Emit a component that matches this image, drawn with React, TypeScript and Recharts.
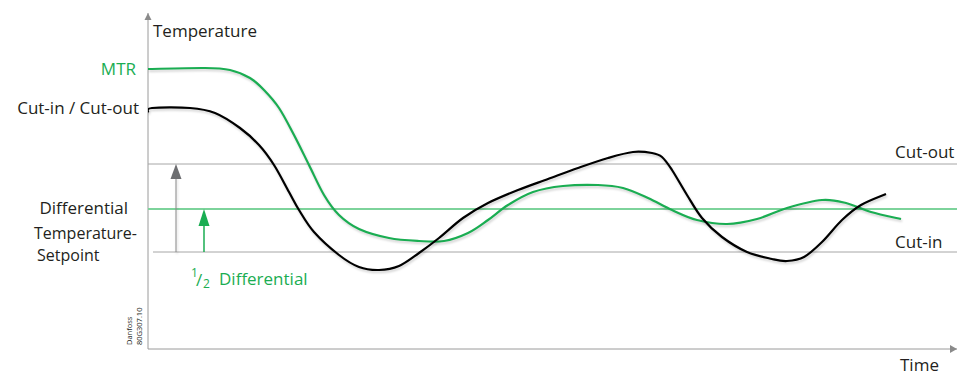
import { LineChart, Line, XAxis, YAxis, ReferenceLine, ReferenceDot } from 'recharts';

// time runs left to right, temperature in arbitrary schematic units
const controlTime = [0, 4, 42, 67, 92, 111, 126, 141, 151, 166, 191, 211, 231, 251, 271, 291, 315, 340, 370, 400, 430, 460, 485, 504, 514, 524, 539, 554, 574, 599, 624, 639, 656, 674, 694, 713, 738];
const controlTemp = [237, 241, 241, 236, 221, 204, 184, 157, 139, 117, 94, 82, 79, 83, 96, 111, 131, 146, 159, 170, 181, 191, 197, 196, 192, 179, 154, 131, 112, 97, 90, 88, 92, 107, 129, 144, 155];

const mtrTime = [0, 57, 82, 102, 116, 131, 146, 161, 176, 191, 211, 241, 271, 296, 320, 340, 360, 385, 415, 450, 475, 500, 524, 549, 579, 609, 639, 674, 698, 723, 753];
const mtrTemp = [280, 281, 279, 271, 259, 241, 214, 184, 154, 134, 120, 111, 108, 108, 116, 129, 144, 157, 163, 164, 161, 151, 139, 129, 125, 130, 141, 149, 146, 137, 130];

const cutOut = 185;
const halfDiff = 140;
const cutIn = 97;
const arrowTime = [28, 56];

const GREEN = '#1aad52';
const GREY = '#6d6e71';
const INK = '#231f20';
const FONT = "'Open Sans', sans-serif";

const toRows = (t: number[], v: number[]) => t.map((time, i) => ({ time, temp: v[i] }));
const controlData = toRows(controlTime, controlTemp);
const mtrData = toRows(mtrTime, mtrTemp);

// catmull-rom through the points, drawn as cubic beziers (smoother than monotone here)
function smoothCurve(ctx: any) {
  let pts: number[][] = [];
  return {
    areaStart() {},
    areaEnd() {},
    lineStart() {
      pts = [];
    },
    point(x: number, y: number) {
      pts.push([+x, +y]);
    },
    lineEnd() {
      if (!pts.length) return;
      ctx.moveTo(pts[0][0], pts[0][1]);
      for (let i = 0; i < pts.length - 1; i++) {
        const p0 = pts[i - 1] || pts[i];
        const p1 = pts[i];
        const p2 = pts[i + 1];
        const p3 = pts[i + 2] || p2;
        ctx.bezierCurveTo(
          p1[0] + (p2[0] - p0[0]) / 6, p1[1] + (p2[1] - p0[1]) / 6,
          p2[0] - (p3[0] - p1[0]) / 6, p2[1] - (p3[1] - p1[1]) / 6,
          p2[0], p2[1],
        );
      }
    },
  };
}

const upHead = (color: string, w: number, h: number) => (p: any) => (
  <path d={`M${p.cx},${p.cy} l${-w / 2},${h} l${w},0 z`} fill={color} />
);
const rightHead = (p: any) => <path d={`M${p.cx},${p.cy} l-7,-4 l0,8 z`} fill="#8a8a8a" />;

const shadow = { filter: 'drop-shadow(1px 2px 1px rgba(0,0,0,0.18))' };

export default function App() {
  return (
    <div style={{ position: 'absolute', left: 0, top: 0, width: 960, height: 376, background: '#fff' }}>
      <LineChart width={960} height={376} margin={{ top: 13, right: 3, bottom: 27, left: 148 }}>
        <XAxis type="number" dataKey="time" domain={[0, 809]} hide allowDataOverflow />
        <YAxis type="number" dataKey="temp" domain={[0, 336]} hide allowDataOverflow />

        {/* axes */}
        <ReferenceLine x={0} stroke="#9a9a9a" strokeWidth={1} />
        <ReferenceLine y={0} stroke="#9a9a9a" strokeWidth={1} />
        <ReferenceDot x={0} y={336} shape={upHead('#8a8a8a', 7, 7)} />
        <ReferenceDot x={809} y={0} shape={rightHead} />

        {/* switching levels */}
        <ReferenceLine y={cutOut} stroke="#a6a6a6" strokeWidth={1} />
        <ReferenceLine y={halfDiff} stroke="#7dd39b" strokeWidth={2} />
        <ReferenceLine segment={[{ x: 5, y: cutIn }, { x: 809, y: cutIn }]} stroke="#a6a6a6" strokeWidth={1} />

        {/* differential arrows */}
        <ReferenceLine segment={[{ x: arrowTime[0], y: cutIn }, { x: arrowTime[0], y: cutOut - 12 }]} stroke="#8a8a8a" strokeWidth={1} style={shadow} />
        <ReferenceDot x={arrowTime[0]} y={cutOut} shape={upHead(GREY, 11, 15)} />
        <ReferenceLine segment={[{ x: arrowTime[1], y: cutIn }, { x: arrowTime[1], y: halfDiff - 14 }]} stroke={GREEN} strokeWidth={1.5} />
        <ReferenceDot x={arrowTime[1]} y={halfDiff} shape={upHead(GREEN, 11, 17)} />

        <Line data={mtrData} type={smoothCurve as any} dataKey="temp" stroke={GREEN} strokeWidth={2.2} dot={false} isAnimationActive={false} style={shadow} />
        <Line data={controlData} type={smoothCurve as any} dataKey="temp" stroke="#000" strokeWidth={2.2} dot={false} isAnimationActive={false} style={shadow} />
      </LineChart>

      <svg width={960} height={376} style={{ position: 'absolute', left: 0, top: 0, pointerEvents: 'none' }} fontFamily={FONT} fontSize={17} fill={INK}>
        <text x={153} y={37}>Temperature</text>
        <text x={136} y={75} textAnchor="end" fill={GREEN}>MTR</text>
        <text x={139} y={114} textAnchor="end">Cut-in / Cut-out</text>
        <text x={128} y={214} textAnchor="end">Differential</text>
        <text x={137} y={239} textAnchor="end" fontSize={16}>Temperature-</text>
        <text x={37} y={261} fontSize={16}>Setpoint</text>
        <text x={895} y={158}>Cut-out</text>
        <text x={895} y={248}>Cut-in</text>
        <text x={900} y={371}>Time</text>
        <g fill={GREEN}>
          <text x={191} y={277} fontSize={12}>1</text>
          <text x={196} y={286}>/</text>
          <text x={203} y={288} fontSize={12}>2</text>
          <text x={219} y={285}>Differential</text>
        </g>
        <g fontSize={7.5} fill={INK}>
          <text transform="translate(132,345) rotate(-90)">Danfoss</text>
          <text transform="translate(142,345) rotate(-90)">80G307.10</text>
        </g>
      </svg>
    </div>
  );
}
